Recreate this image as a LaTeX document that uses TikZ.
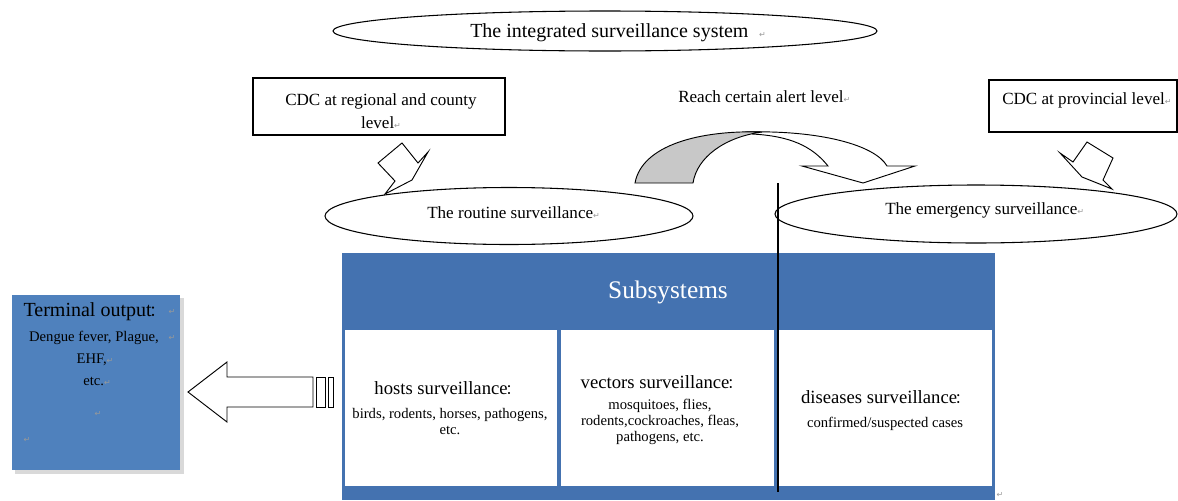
\documentclass[tikz,border=0pt]{standalone}
\usepackage{fontspec}
\setmainfont{Liberation Serif}
\newfontfamily\cjkfont{Noto Sans CJK SC}
\newfontfamily\dejavu{DejaVu Sans}
\usetikzlibrary{shapes.geometric}
\definecolor{tblue}{RGB}{68,114,176}
\definecolor{obox}{RGB}{79,129,189}
\definecolor{agray}{RGB}{200,200,200}
\newcommand\parmark{{\dejavu\fontsize{6}{6}\selectfont\textcolor{black!40}{↵}}}
\newcommand\fcolon{{\cjkfont\fontsize{0.75em}{1em}\selectfont\hspace{-0.15em}：\hspace{-0.3em}}}
\begin{document}
\begin{tikzpicture}[x=0.75pt,y=-0.75pt,
  oval/.style={ellipse,draw=black,line width=0.8pt,fill=white,inner sep=0pt},
  boxnode/.style={rectangle,draw=black,line width=0.8pt,fill=white,inner sep=0pt},
  midtext/.style={font=\fontsize{12.8}{15}\selectfont,inner sep=0pt},
  subhead/.style={font=\fontsize{14}{16}\selectfont,inner sep=0pt},
  smalltext/.style={font=\fontsize{11}{12}\selectfont,inner sep=0pt,align=center},
  cell/.style={rectangle,fill=white,inner sep=0pt},
  blockarrow/.style={draw=black,line width=0.7pt,fill=white,line join=miter}
]
\useasboundingbox (0,0) rectangle (1178,500);

% top ellipse
\node[oval,minimum width=408pt,minimum height=30pt] (top) at (605,31) {};
\node[inner sep=0pt,font=\fontsize{15}{17}\selectfont,anchor=west] (toptext) at (470,33) {The integrated surveillance system\hspace{8pt}\parmark};

% CDC regional
\node[boxnode,minimum width=189pt,minimum height=42.75pt] (cdcr) at (379,106.5) {};
\node[midtext,align=center] (cdcrtext) at (381,111) {CDC at regional and county\\[2pt] level\parmark};

% CDC provincial
\node[boxnode,minimum width=141pt,minimum height=39pt] (cdcp) at (1083,106) {};
\node[midtext,anchor=west] (cdcptext) at (1002,100) {CDC at provincial level\parmark};

% alert label
\node[midtext,anchor=west] (alert) at (678,97) {Reach certain alert level\parmark};

% routine arrow
\draw[blockarrow] (402,143) -- (378,163) -- (395,181) -- (385,194) -- (412,180) -- (428,152) -- (418,163) -- cycle;
% provincial arrow
\draw[blockarrow] (1087,142) -- (1113,158) -- (1103,180) -- (1112,189) -- (1082,177) -- (1060,153) -- (1073,162) -- cycle;

% curved arrow
\draw[blockarrow] (745,132) .. controls (820,130) and (875,145) .. (887,166) -- (915,166) -- (863,183) -- (802,166) -- (828,166) .. controls (812,146) and (790,136) .. (752,134);
\draw[draw=black,line width=0.7pt,fill=agray] (635,183) .. controls (642,145) and (700,130) .. (762,132) .. controls (725,137) and (697,157) .. (693,183) -- cycle;

% routine / emergency ellipses
\node[oval,minimum width=276pt,minimum height=42.75pt] (routine) at (509,216) {};
\node[midtext,anchor=west] (routinetext) at (427,213) {The routine surveillance\parmark};
\node[oval,minimum width=301.5pt,minimum height=43.5pt] (emerg) at (976,214) {};
\node[midtext,anchor=west] (emergtext) at (885,210) {The emergency surveillance\parmark};

% subsystems table
\node[rectangle,fill=tblue,inner sep=0pt,minimum width=489.75pt,minimum height=185.25pt] (table) at (668.5,376.5) {};
\node[inner sep=0pt,text=white,font=\fontsize{19}{21}\selectfont] (subs) at (668,292) {Subsystems};
\node[cell,minimum width=159pt,minimum height=117pt] (hosts) at (451,408) {};
\node[cell,minimum width=159.75pt,minimum height=117pt] (vectors) at (667,408) {};
\node[cell,minimum width=160.5pt,minimum height=117pt] (diseases) at (885,408) {};

\node[subhead] (hostsh) at (447,388) {hosts surveillance\fcolon};
\node[smalltext] (hostst) at (450,422) {birds, rodents, horses, pathogens,\\ etc.};
\node[subhead] (vectorsh) at (661,382) {vectors surveillance\fcolon};
\node[smalltext] (vectorst) at (660,422) {mosquitoes, flies,\\ rodents,cockroaches, fleas,\\ pathogens, etc.};
\node[subhead] (diseasesh) at (885,397) {diseases surveillance\fcolon};
\node[smalltext] (diseasest) at (885,424) {confirmed/suspected cases};
\node[inner sep=0pt] (tblmark) at (1000,495) {\parmark};

% vertical line
\coordinate (vtop) at (778,183);
\coordinate (vbot) at (778,492);
\draw[line width=0.8pt] (vtop) -- (vbot);

% terminal output box
\fill[black!15] (15,298) rectangle (184,474);
\node[rectangle,fill=obox,inner sep=0pt,minimum width=126pt,minimum height=131.25pt] (term) at (96,382.5) {};
\node[inner sep=0pt,font=\fontsize{15}{17}\selectfont] (termh) at (94,312) {Terminal output\fcolon};
\node[inner sep=0pt,font=\fontsize{11}{13}\selectfont] (term1) at (94,338) {Dengue fever, Plague,};
\node[inner sep=0pt,font=\fontsize{11}{13}\selectfont] (term2) at (95,360) {EHF,\parmark};
\node[inner sep=0pt,font=\fontsize{11}{13}\selectfont] (term3) at (97,381) {etc.\parmark};
\node[inner sep=0pt] (term4) at (98,414) {\parmark};
\node[inner sep=0pt] (term5) at (27,440) {\parmark};
\node[inner sep=0pt] (term6) at (172,312) {\parmark};
\node[inner sep=0pt] (term7) at (172,338) {\parmark};

% left arrow
\draw[blockarrow] (188,392) -- (227,362) -- (227,377) -- (313,377) -- (313,407) -- (227,407) -- (227,422) -- cycle;
\draw[blockarrow] (316,377) rectangle (325,407);
\draw[blockarrow] (328,377) rectangle (333,407);
\end{tikzpicture}
\end{document}
